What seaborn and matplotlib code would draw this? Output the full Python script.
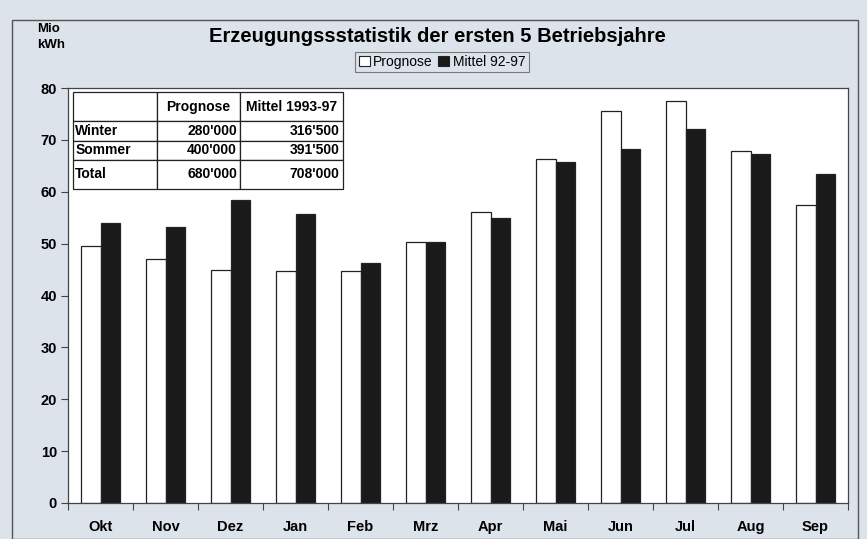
import matplotlib.pyplot as plt
import matplotlib.patches as mpatches
import pandas as pd
import seaborn as sns

months = ['Okt', 'Nov', 'Dez', 'Jan', 'Feb', 'Mrz', 'Apr', 'Mai', 'Jun', 'Jul', 'Aug', 'Sep']
prognose = [49.5, 47.0, 44.9, 44.7, 44.7, 50.3, 56.1, 66.3, 75.5, 77.4, 67.9, 57.4]
mittel = [54.0, 53.2, 58.4, 55.7, 46.2, 50.3, 54.9, 65.8, 68.2, 72.1, 67.2, 63.4]
series = ['Prognose', 'Mittel 92-97']

table_cols = ['', 'Prognose', 'Mittel 1993-97']
table_rows = [['Winter', "280'000", "316'500"],
              ['Sommer', "400'000", "391'500"],
              ['Total', "680'000", "708'000"]]

bg = '#dde3eb'


def main():
  df = pd.DataFrame({'month': months * 2,
                     'value': prognose + mittel,
                     'series': [series[0]] * 12 + [series[1]] * 12})

  sns.set_theme(style='white')
  plt.rcParams['font.family'] = ['Liberation Sans', 'DejaVu Sans']
  plt.rcParams['font.weight'] = 'bold'
  plt.rcParams['text.color'] = 'black'
  plt.rcParams['xtick.color'] = 'black'
  plt.rcParams['ytick.color'] = 'black'

  fig = plt.figure(figsize=(8.67, 5.39), dpi=100, facecolor=bg)
  ax = fig.add_axes([68 / 867, 1 - 503 / 539, 780 / 867, 415 / 539])
  ax.set_facecolor('white')

  sns.barplot(data=df, x='month', y='value', hue='series',
              palette=['white', '#1a1a1a'], edgecolor='#222222',
              linewidth=0.9, width=0.6, saturation=1, legend=False, ax=ax)

  ax.set_ylim(0, 80)
  ax.set_xlim(-0.5, 11.5)
  ax.set_yticks(range(0, 81, 10))
  ax.set_xlabel('')
  ax.set_ylabel('')
  ax.tick_params(axis='y', direction='out', length=5, width=0.8,
                 left=True, labelsize=10.5, pad=3, color='#444444')
  ax.set_xticks(range(12))
  ax.set_xticks([i - 0.5 for i in range(13)], minor=True)
  ax.tick_params(axis='x', which='major', length=0, labelsize=10.5, pad=12)
  ax.tick_params(axis='x', which='minor', direction='out', length=5,
                 width=0.8, bottom=True, color='#444444')
  for lbl in ax.get_xticklabels() + ax.get_yticklabels():
    lbl.set_fontweight('bold')
  for sp in ax.spines.values():
    sp.set_color('#444444')
    sp.set_linewidth(0.9)

  # data table in the upper left
  tab = ax.table(cellText=table_rows, colLabels=table_cols,
                 bbox=[0.006, 0.757, 0.346, 0.233], cellLoc='right')
  tab.auto_set_font_size(False)
  widths = [84, 83, 103]
  heights = [29, 20, 19, 29]
  for (r, c), cell in tab.get_celld().items():
    cell.set_edgecolor('#222222')
    cell.set_linewidth(0.9)
    cell.set_width(widths[c] / 780)
    cell.set_height(heights[r] / 415)
    cell.PAD = 0.03
    cell.get_text().set_fontsize(10)
    cell.get_text().set_fontweight('bold')
    if c == 0:
      cell._loc = 'left'
      cell.get_text().set_ha('left')
    if r == 0 and c > 0:
      cell._loc = 'center'
      cell.get_text().set_ha('center')

  fig.text(437 / 867, 1 - 37 / 539,
           'Erzeugungssstatistik der ersten 5 Betriebsjahre',
           ha='center', va='center', fontsize=14.5, fontweight='bold')
  fig.text(37 / 867, 1 - 37 / 539, 'Mio\nkWh', ha='left', va='center',
           fontsize=9.5, fontweight='bold', linespacing=1.5)

  handles = [mpatches.Patch(facecolor='white', edgecolor='#222222', linewidth=0.8),
             mpatches.Patch(facecolor='#1a1a1a', edgecolor='#222222', linewidth=0.8)]
  leg = fig.legend(handles, series, loc='center', ncol=2,
                   bbox_to_anchor=(442 / 867, 1 - 62 / 539),
                   prop={'size': 10, 'weight': 'normal'},
                   handlelength=0.8, handleheight=0.8, handletextpad=0.25,
                   columnspacing=0.4, borderpad=0.25, fancybox=False,
                   framealpha=1, facecolor=bg, edgecolor='#777777')
  leg.get_frame().set_linewidth(0.8)

  # outer frame
  fig.patches.append(mpatches.Rectangle((12 / 867, 0), 846 / 867, 1 - 20 / 539,
                                        transform=fig.transFigure, fill=False,
                                        edgecolor='#555555', linewidth=1.0))

  plt.savefig('out.png', dpi=100, facecolor=bg)
  plt.close()


if __name__ == '__main__':
  main()
